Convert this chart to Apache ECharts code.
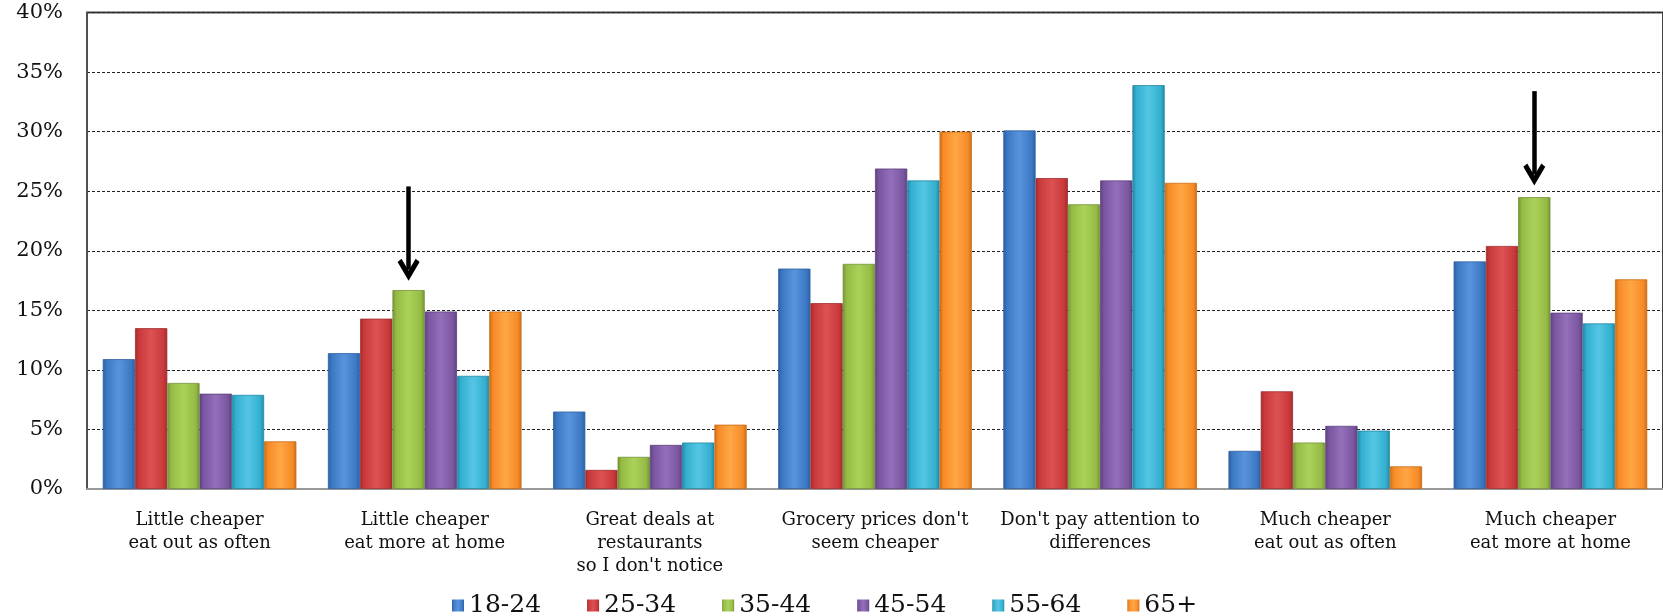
<!DOCTYPE html>
<html>
<head>
<meta charset="utf-8">
<script src="https://cdn.jsdelivr.net/npm/echarts@6/dist/echarts.min.js"></script>
<style>
  html, body { margin: 0; padding: 0; background: #fff; }
  #main { width: 1663px; height: 616px; }
</style>
</head>
<body>
<div id="main"></div>
<script>
// categories on the x axis
const categories = [
  'Little cheaper\neat out as often',
  'Little cheaper\neat more at home',
  'Great deals at\nrestaurants\nso I don\'t notice',
  'Grocery prices don\'t\nseem cheaper',
  'Don\'t pay attention to\ndifferences',
  'Much cheaper\neat out as often',
  'Much cheaper\neat more at home'
]
const ageGroups = ['18-24', '25-34', '35-44', '45-54', '55-64', '65+']

// percent values per age group
const age18_24 = [10.9, 11.4, 6.5, 18.5, 30.1, 3.2, 19.1]
const age25_34 = [13.5, 14.3, 1.6, 15.6, 26.1, 8.2, 20.4]
const age35_44 = [8.9, 16.7, 2.7, 18.9, 23.9, 3.9, 24.5]
const age45_54 = [8.0, 14.9, 3.7, 26.9, 25.9, 5.3, 14.8]
const age55_64 = [7.9, 9.5, 3.9, 25.9, 33.9, 4.9, 13.9]
const age65up = [4.0, 14.9, 5.4, 30.0, 25.7, 1.9, 17.6]

// arrows over the 35-44 bars: [category index, from %, to %]
const arrows = [[1, 25.4, 18.4], [6, 33.4, 26.4]]

const colors = [
  ['#5a93dc', '#3b78c4', '#2d5f9f'],
  ['#dc5253', '#c9393a', '#a02c2d'],
  ['#aad25a', '#95bb45', '#739235'],
  ['#9470bb', '#7a55a0', '#5e417d'],
  ['#55c6e4', '#33afd0', '#2387a3'],
  ['#ffa645', '#f68b27', '#c96c18']
]
const allData = [age18_24, age25_34, age35_44, age45_54, age55_64, age65up]

const fontSerif = '"DejaVu Serif", "Liberation Serif", serif'

const series = ageGroups.map(function (name, i) {
  const c = colors[i]
  const s = {
    name: name,
    type: 'bar',
    data: allData[i],
    barGap: '0%',
    barCategoryGap: '14%',
    itemStyle: {
      color: new echarts.graphic.LinearGradient(0, 0, 1, 0, [
        { offset: 0, color: c[2] },
        { offset: 0.12, color: c[1] },
        { offset: 0.5, color: c[0] },
        { offset: 0.88, color: c[1] },
        { offset: 1, color: c[2] }
      ]),
      borderColor: c[2],
      borderWidth: 0.8
    }
  }
  if (name === '35-44') {
    s.markLine = {
      silent: true,
      symbol: ['none', 'path://M5,0 L10,7.2 L8.2,8.4 L5,3.8 L1.8,8.4 L0,7.2 Z'],
      symbolSize: [22, 22],
      label: { show: false },
      lineStyle: { color: '#000', width: 4.5, type: 'solid' },
      data: arrows.map(function (a) {
        return [{ coord: [a[0], a[1]] }, { coord: [a[0], a[2]] }]
      })
    }
  }
  return s
})

const chart = echarts.init(document.getElementById('main'))
chart.setOption({
  animation: false,
  color: colors.map(function (c) { return c[1] }),
  grid: {
    left: 87,
    right: -5,
    top: 12.5,
    bottom: 127,
    show: true,
    borderColor: '#444',
    borderWidth: 2
  },
  legend: {
    data: ageGroups,
    left: 447,
    top: 588,
    icon: 'rect',
    itemWidth: 12,
    itemHeight: 12,
    itemGap: 46,
    itemStyle: { borderWidth: 0 },
    textStyle: { fontFamily: fontSerif, fontSize: 25, color: '#111' }
  },
  xAxis: {
    type: 'category',
    data: categories,
    axisTick: { show: false },
    axisLine: { lineStyle: { color: '#999', width: 2 } },
    axisLabel: {
      interval: 0,
      margin: 20,
      fontFamily: fontSerif,
      fontSize: 18,
      lineHeight: 23,
      color: '#111'
    }
  },
  yAxis: {
    type: 'value',
    min: 0,
    max: 40,
    interval: 5,
    axisLine: { show: true, lineStyle: { color: '#555', width: 1.5 } },
    axisTick: { show: false },
    axisLabel: {
      formatter: '{value}%',
      margin: 24,
      fontFamily: fontSerif,
      fontSize: 21,
      color: '#111'
    },
    splitLine: { lineStyle: { color: '#222', width: 1, type: [3, 2] } }
  },
  series: series
})
</script>
</body>
</html>
